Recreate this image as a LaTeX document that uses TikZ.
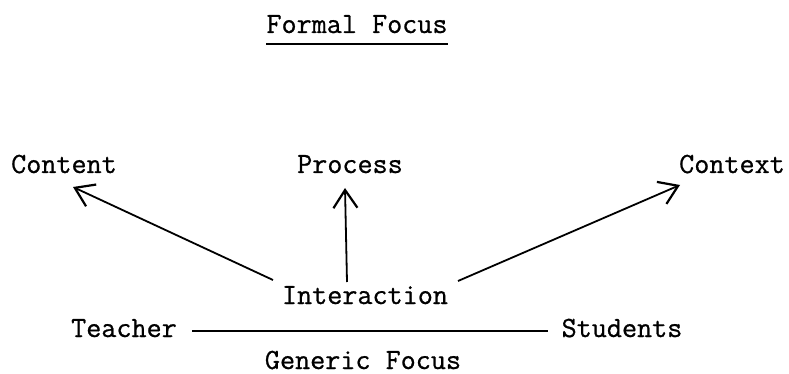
\documentclass[tikz,border=0pt]{standalone}
\usepackage{fontspec}
\setmonofont{Latin Modern Mono}[FakeBold=0.8,AutoFakeBold=0.8]
\usetikzlibrary{arrows.meta,calc}
\begin{document}
\begin{tikzpicture}[x=1pt,y=-1pt,
  lbl/.style={font=\ttfamily\bfseries\fontsize{29.3}{30}\selectfont, inner sep=0pt, anchor=base},
  arr/.style={-{Straight Barb[length=18pt,width=24pt,line width=2.2pt]}, line width=1.8pt},
  ln/.style={line width=1.5pt}]
\useasboundingbox (0,0) rectangle (789,374);
\node[lbl] (formal) at (357,33) {Formal Focus};
\draw[ln] ($(formal.base west)+(0,11)$) coordinate (u1) -- ($(formal.base east)+(0,11)$) coordinate (u2);
\node[lbl] (content) at (64,173) {Content};
\node[lbl] (process) at (350,173) {Process};
\node[lbl] (context) at (732,173) {Context};
\node[lbl] (inter) at (365,304) {Interaction};
\node[lbl] (teacher) at (124,337) {Teacher};
\node[lbl] (students) at (622,337) {Students};
\node[lbl] (generic) at (363,369) {Generic Focus};
\coordinate (c1) at (273,280);
\coordinate (c2) at (347,282);
\coordinate (c3) at (458,281);
\coordinate (t1) at (73,187);
\coordinate (t2) at (345,188);
\coordinate (t3) at (680,185);
\draw[arr] (c1) -- (t1);
\draw[arr] (c2) -- (t2);
\draw[arr] (c3) -- (t3);
\coordinate (l1) at (192,331);
\coordinate (l2) at (548,331);
\draw[ln] (l1) -- (l2);
\end{tikzpicture}
\end{document}
